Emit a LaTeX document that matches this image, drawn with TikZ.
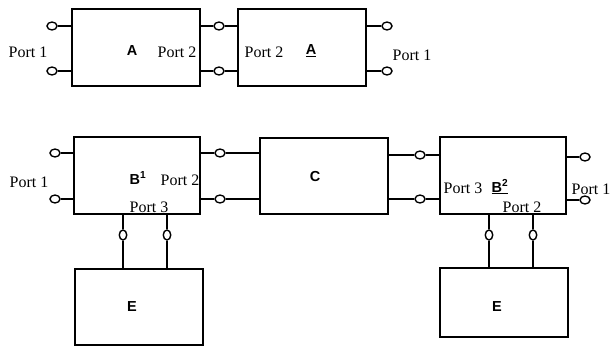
\documentclass[tikz,border=0pt]{standalone}
\usepackage{fontspec}
\setmainfont{Liberation Serif}
\newfontfamily\lblfont{Liberation Sans}
\usetikzlibrary{shapes.geometric}
\begin{document}
\begin{tikzpicture}[x=1pt,y=-1pt,
  blk/.style={draw,line width=1.7pt,inner sep=0pt,minimum width=128pt,minimum height=77pt},
  hport/.style={draw,ellipse,line width=1.4pt,inner sep=0pt,minimum width=10pt,minimum height=8pt},
  vport/.style={draw,ellipse,line width=1.4pt,inner sep=0pt,minimum width=7.5pt,minimum height=10pt},
  wire/.style={line width=1.4pt},
  ptxt/.style={font=\fontsize{16}{17}\selectfont,inner sep=0pt},
  btxt/.style={font=\lblfont\bfseries\fontsize{14.5}{15}\selectfont,inner sep=0pt}]
\useasboundingbox (0,0) rectangle (613,347);
% boxes
\node[blk] (A1) at (136,47.5) {};
\node[blk] (A2) at (302,47.5) {};
\node[blk,minimum width=126pt] (B1) at (137,175.5) {};
\node[blk,minimum height=76pt] (C) at (324,176) {};
\node[blk,minimum width=126pt] (B2) at (503,175.5) {};
\node[blk,minimum height=76pt] (E1) at (139,307) {};
\node[blk,minimum height=69pt] (E2) at (504,302.5) {};
% top row ports
\node[hport] (c1) at (52,26) {};
\node[hport] (c2) at (52,71) {};
\node[hport] (c3) at (219,26) {};
\node[hport] (c4) at (219,71) {};
\node[hport] (c5) at (387,26) {};
\node[hport] (c6) at (387,71) {};
\draw[wire] (c1.east) -- (c1.east -| A1.west);
\draw[wire] (c2.east) -- (c2.east -| A1.west);
\draw[wire] (c3.west -| A1.east) -- (c3.west);
\draw[wire] (c3.east) -- (c3.east -| A2.west);
\draw[wire] (c4.west -| A1.east) -- (c4.west);
\draw[wire] (c4.east) -- (c4.east -| A2.west);
\draw[wire] (c5.west -| A2.east) -- (c5.west);
\draw[wire] (c6.west -| A2.east) -- (c6.west);
% bottom row ports
\node[hport] (d1) at (55,153) {};
\node[hport] (d2) at (55,199) {};
\node[hport] (d3) at (220,153) {};
\node[hport] (d4) at (220,199) {};
\node[hport] (d5) at (420,155) {};
\node[hport] (d6) at (420,199) {};
\node[hport] (d7) at (585,157) {};
\node[hport] (d8) at (585,200) {};
\draw[wire] (d1.east) -- (d1.east -| B1.west);
\draw[wire] (d2.east) -- (d2.east -| B1.west);
\draw[wire] (d3.west -| B1.east) -- (d3.west);
\draw[wire] (d3.east) -- (d3.east -| C.west);
\draw[wire] (d4.west -| B1.east) -- (d4.west);
\draw[wire] (d4.east) -- (d4.east -| C.west);
\draw[wire] (d5.west -| C.east) -- (d5.west);
\draw[wire] (d5.east) -- (d5.east -| B2.west);
\draw[wire] (d6.west -| C.east) -- (d6.west);
\draw[wire] (d6.east) -- (d6.east -| B2.west);
\draw[wire] (d7.west -| B2.east) -- (d7.west);
\draw[wire] (d8.west -| B2.east) -- (d8.west);
% vertical ports
\node[vport] (v1) at (123,235) {};
\node[vport] (v2) at (167,235) {};
\node[vport] (v3) at (489,235) {};
\node[vport] (v4) at (533,235) {};
\draw[wire] (v1.north |- B1.south) -- (v1.north);
\draw[wire] (v1.south) -- (v1.south |- E1.north);
\draw[wire] (v2.north |- B1.south) -- (v2.north);
\draw[wire] (v2.south) -- (v2.south |- E1.north);
\draw[wire] (v3.north |- B2.south) -- (v3.north);
\draw[wire] (v3.south) -- (v3.south |- E2.north);
\draw[wire] (v4.north |- B2.south) -- (v4.north);
\draw[wire] (v4.south) -- (v4.south |- E2.north);
% labels
\node[ptxt] (t1) at (28,52) {Port 1};
\node[btxt] (tA1) at (132,51) {A};
\node[ptxt] (t2) at (177,52) {Port 2};
\node[ptxt] (t3) at (264,52) {Port 2};
\node[btxt] (tA2) at (311,51) {\underline{A}};
\node[ptxt] (t4) at (412,55) {Port 1};
\node[ptxt] (t5) at (29,182) {Port 1};
\node[btxt] (tB1) at (138,178) {B\textsuperscript{1}};
\node[ptxt] (t6) at (180,180) {Port 2};
\node[ptxt] (t7) at (149,207) {Port 3};
\node[btxt] (tC) at (315,177) {C};
\node[ptxt] (t8) at (463,188) {Port 3};
\node[btxt] (tB2) at (500,187) {\underline{B\textsuperscript{2}}};
\node[ptxt] (t9) at (522,207) {Port 2};
\node[ptxt] (t10) at (591,189) {Port 1};
\node[btxt] (tE1) at (132,307) {E};
\node[btxt] (tE2) at (497,307) {E};
\end{tikzpicture}
\end{document}
